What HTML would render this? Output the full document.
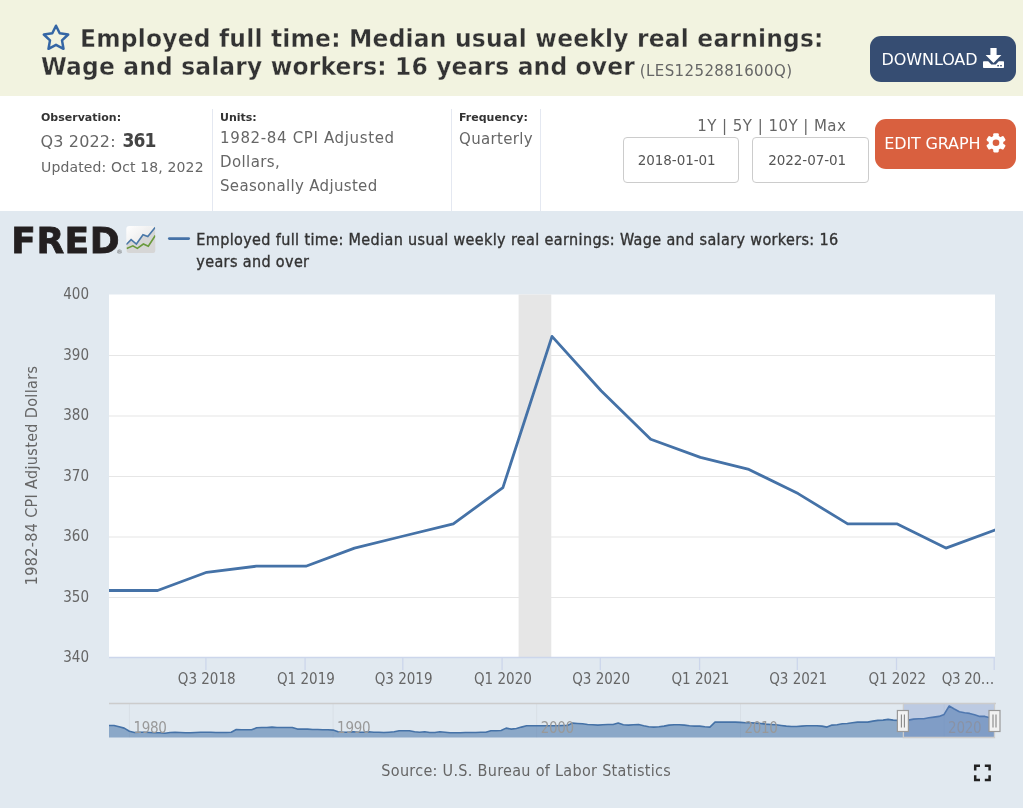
<!DOCTYPE html>
<html><head><meta charset="utf-8"><title>FRED Graph</title>
<style>
html,body{margin:0;padding:0;background:#fff;}
body{width:1023px;height:809px;position:relative;overflow:hidden;font-family:"DejaVu Sans","Liberation Sans",sans-serif;color:#333;}
.a{position:absolute;white-space:nowrap;line-height:1;}
#band{position:absolute;left:0;top:0;width:1023px;height:95.5px;background:#f2f3e0;}
.t{font-family:"DejaVu Sans Condensed","DejaVu Sans",sans-serif;font-weight:bold;font-size:25.5px;color:#333;-webkit-text-stroke:0.3px #f2f3e0;transform:scaleX(1.02);transform-origin:0 0;}
.btn{position:absolute;border-radius:11px;}
.bt{font-family:"DejaVu Sans",sans-serif;font-size:16px;color:#fff;}
.lab{font-weight:bold;font-size:11px;color:#333;}
.g{color:#666;}
.div{position:absolute;top:109px;width:1px;height:102px;background:#e4e8f1;}
.inp{position:absolute;box-sizing:border-box;border:1px solid #ccc;border-radius:4px;background:#fff;top:137px;height:46px;}
#chart{position:absolute;left:0;top:211px;width:1023px;height:597px;background:#e1e9f0;}
svg text{font-family:"DejaVu Sans Condensed","DejaVu Sans",sans-serif;}
.al{font-size:15px;fill:#666;letter-spacing:0px;}
.nl{font-size:15px;fill:#999;letter-spacing:-0.3px;stroke:#e1e9f0;stroke-width:0;}
.yt{font-size:16px;fill:#666;letter-spacing:0.35px;}
.src{font-size:16px;fill:#666;letter-spacing:0.31px;}
.lg{font-family:"DejaVu Sans Condensed","DejaVu Sans",sans-serif;font-size:16px;color:#333;letter-spacing:0.37px;-webkit-text-stroke:0.35px #333;}
#fred{font-family:"DejaVu Sans","Liberation Sans",sans-serif;font-weight:bold;font-size:36px;color:#231f20;letter-spacing:0.5px;-webkit-text-stroke:0.8px #231f20;}
</style></head><body>
<div id="band"></div>
<svg class="a" style="left:41px;top:23px" width="30" height="28" viewBox="0 0 30 28"><path d="M15 2.7L18.7 10.3L27.2 11.5L21 17.4L22.5 25.8L15 21.8L7.5 25.8L9 17.4L2.8 11.5L11.3 10.3Z" fill="none" stroke="#3566a5" stroke-width="2.5" stroke-linejoin="round"/></svg>
<div class="a t" style="left:79.7px;top:25.9px;letter-spacing:0.19px">Employed full time: Median usual weekly real earnings:</div>
<div class="a t" style="left:41px;top:53.9px;letter-spacing:0.15px">Wage and salary workers: 16 years and over <span style="font-family:'DejaVu Sans',sans-serif;font-weight:normal;font-size:15px;color:#666;letter-spacing:0.40px;margin-left:-3px;position:relative;top:0.7px;-webkit-text-stroke:0;display:inline-block;transform:scaleX(0.9804);transform-origin:0 0">(LES1252881600Q)</span></div>

<div class="btn" style="left:870px;top:35.5px;width:145.5px;height:46px;background:#364d72;"></div>
<div class="a bt" style="left:881.6px;top:52px;letter-spacing:-0.1px">DOWNLOAD</div>
<svg class="a" style="left:983px;top:48px" width="21" height="20" viewBox="0 0 21 20"><path d="M7.4 0H13.6V7H18.4L10.5 15L2.6 7H7.4Z" fill="#fff"/><path d="M0.8 13.3H5.2L8.3 16.4H12.7L15.8 13.3H20.2Q21 13.3 21 14.1V19.2Q21 20 20.2 20H0.8Q0 20 0 19.2V14.1Q0 13.3 0.8 13.3Z" fill="#fff"/><rect x="14.3" y="17" width="1.6" height="1.4" fill="#364d72"/><rect x="17.2" y="17" width="1.6" height="1.4" fill="#364d72"/></svg>

<div class="a lab" style="left:41px;top:112px">Observation:</div>
<div class="a g" style="left:40.5px;top:133.5px;font-size:16px;letter-spacing:0.15px">Q3 2022:</div>
<div class="a" style="left:122.5px;top:130.5px;font-size:19px;font-weight:bold;font-family:'DejaVu Sans Condensed','DejaVu Sans',sans-serif;letter-spacing:-0.9px;color:#444">361</div>
<div class="a g" style="left:41px;top:159.5px;font-size:14px;letter-spacing:0.14px">Updated: Oct 18, 2022</div>
<div class="div" style="left:212px"></div>
<div class="a lab" style="left:220px;top:112px">Units:</div>
<div class="a g" style="left:220px;top:131.3px;font-size:15px;letter-spacing:0.65px">1982-84 CPI Adjusted</div>
<div class="a g" style="left:220px;top:155.4px;font-size:15px;letter-spacing:0.4px">Dollars,</div>
<div class="a g" style="left:220px;top:179.2px;font-size:15px;letter-spacing:0.33px">Seasonally Adjusted</div>
<div class="div" style="left:451px"></div>
<div class="a lab" style="left:459px;top:112px">Frequency:</div>
<div class="a g" style="left:459px;top:131.5px;font-size:15px;letter-spacing:0.33px">Quarterly</div>
<div class="div" style="left:540px"></div>

<div class="a g" style="left:697.3px;top:119.1px;font-size:15px;letter-spacing:0.45px">1Y | 5Y | 10Y | Max</div>
<div class="inp" style="left:623px;width:116px"></div>
<div class="inp" style="left:752px;width:117px"></div>
<div class="a" style="left:637.7px;top:154.2px;font-size:13.5px;color:#555;letter-spacing:-0.05px">2018-01-01</div>
<div class="a" style="left:768.2px;top:154.2px;font-size:13.5px;color:#555;letter-spacing:-0.05px">2022-07-01</div>
<div class="btn" style="left:875px;top:119px;width:140.5px;height:50px;background:#d9603f;"></div>
<div class="a bt" style="left:884.3px;top:136.3px;letter-spacing:-0.15px">EDIT GRAPH</div>
<svg class="a" style="left:986px;top:133px" width="20" height="19.6" viewBox="0 0 21 21" preserveAspectRatio="none"><g fill="#fff"><circle cx="10.5" cy="10.5" r="7.7"/>
<g id="gt"><rect x="7.6" y="0.2" width="5.8" height="20.6" rx="1.2"/></g><use href="#gt" transform="rotate(60 10.5 10.5)"/><use href="#gt" transform="rotate(120 10.5 10.5)"/></g><circle cx="10.5" cy="10.5" r="3.5" fill="#d9603f"/></svg>

<div id="chart"></div>
<svg class="a" style="left:0;top:0" width="1023" height="809" viewBox="0 0 1023 809">
<defs><clipPath id="pc"><rect x="109.0" y="294.5" width="886.0" height="363.0"/></clipPath></defs>
<rect x="109.0" y="294.5" width="886.0" height="363.0" fill="#fff"/>
<rect x="518.6" y="294.5" width="32.7" height="363.0" fill="#e6e6e6"/>
<path d="M109.0 597.5H995.0" stroke="#e6e6e6" stroke-width="1.1"/>
<path d="M109.0 537.0H995.0" stroke="#e6e6e6" stroke-width="1.1"/>
<path d="M109.0 476.5H995.0" stroke="#e6e6e6" stroke-width="1.1"/>
<path d="M109.0 416.0H995.0" stroke="#e6e6e6" stroke-width="1.1"/>
<path d="M109.0 355.5H995.0" stroke="#e6e6e6" stroke-width="1.1"/>
<path d="M109.0 657.5H995.0" stroke="#ccd6eb" stroke-width="1.3"/>
<path d="M205.9 657.5V670" stroke="#ccd6eb" stroke-width="1.3"/>
<path d="M305.1 657.5V670" stroke="#ccd6eb" stroke-width="1.3"/>
<path d="M402.8 657.5V670" stroke="#ccd6eb" stroke-width="1.3"/>
<path d="M502.1 657.5V670" stroke="#ccd6eb" stroke-width="1.3"/>
<path d="M600.3 657.5V670" stroke="#ccd6eb" stroke-width="1.3"/>
<path d="M699.6 657.5V670" stroke="#ccd6eb" stroke-width="1.3"/>
<path d="M797.3 657.5V670" stroke="#ccd6eb" stroke-width="1.3"/>
<path d="M896.5 657.5V670" stroke="#ccd6eb" stroke-width="1.3"/>
<path d="M994.2 657.5V670" stroke="#ccd6eb" stroke-width="1.3"/>
<path d="M109.0 590.5 L157.6 590.5 L206.7 572.3 L256.3 566.2 L305.9 566.2 L354.5 548.1 L403.6 536.0 L453.3 523.9 L502.9 487.6 L552.0 336.4 L601.1 390.8 L650.7 439.2 L700.4 457.4 L748.9 469.4 L798.1 493.6 L847.7 523.9 L897.3 523.9 L945.9 548.1 L995.0 530.0" fill="none" stroke="#4572a7" stroke-width="2.8" stroke-linejoin="round" stroke-linecap="round" clip-path="url(#pc)"/>
<path d="M129.4 704V737.5" stroke="#d8dfe6" stroke-width="1"/>
<path d="M333.1 704V737.5" stroke="#d8dfe6" stroke-width="1"/>
<path d="M536.7 704V737.5" stroke="#d8dfe6" stroke-width="1"/>
<path d="M740.5 704V737.5" stroke="#d8dfe6" stroke-width="1"/>
<path d="M944.1 704V737.5" stroke="#d8dfe6" stroke-width="1"/>
<path d="M109.0 725.5 L114.0 725.5 L119.1 726.8 L124.2 728.1 L129.4 731.2 L134.4 732.5 L139.5 732.2 L144.6 732.2 L149.8 732.5 L154.8 732.8 L159.9 732.8 L165.0 733.2 L170.1 732.5 L175.1 732.2 L180.2 732.5 L185.3 732.8 L190.5 732.8 L195.5 732.5 L200.6 732.2 L205.7 732.2 L210.8 732.2 L215.9 732.5 L221.0 732.5 L226.1 732.5 L231.2 732.2 L236.3 729.5 L241.3 729.8 L246.5 729.8 L251.6 729.8 L256.6 727.8 L261.7 727.5 L266.8 727.5 L272.0 727.1 L277.0 727.5 L282.1 727.5 L287.2 727.5 L292.3 727.5 L297.4 729.1 L302.5 729.1 L307.6 729.1 L312.7 729.5 L317.7 729.5 L322.8 729.8 L327.9 729.8 L333.1 730.1 L338.1 731.8 L343.2 732.2 L348.3 732.2 L353.4 731.8 L358.5 732.2 L363.5 732.2 L368.7 731.8 L373.8 732.2 L378.9 732.2 L383.9 732.5 L389.1 732.2 L394.2 731.8 L399.2 730.8 L404.3 730.8 L409.4 730.8 L414.6 731.8 L419.6 732.2 L424.7 731.8 L429.8 732.5 L434.9 732.5 L439.9 731.8 L445.0 732.2 L450.1 732.8 L455.3 732.8 L460.3 732.8 L465.4 732.5 L470.5 732.5 L475.7 732.5 L480.7 732.2 L485.8 732.2 L490.9 730.8 L496.0 730.8 L501.1 730.5 L506.1 728.1 L511.3 729.1 L516.4 728.5 L521.4 727.1 L526.5 725.8 L531.6 725.8 L536.7 725.8 L541.8 725.8 L546.9 725.8 L552.0 725.8 L557.2 725.8 L562.2 725.5 L567.3 725.5 L572.4 723.1 L577.5 723.5 L582.5 723.8 L587.6 724.5 L592.7 724.8 L597.9 725.1 L602.9 724.8 L608.0 724.5 L613.1 724.5 L618.2 723.1 L623.3 724.8 L628.4 725.1 L633.5 724.8 L638.6 724.5 L643.7 725.8 L648.7 726.8 L653.9 727.1 L659.0 726.8 L664.0 726.1 L669.1 725.1 L674.2 724.8 L679.3 724.8 L684.4 725.1 L689.4 725.8 L694.6 726.1 L699.7 726.1 L704.8 726.8 L709.9 727.1 L715.0 722.1 L720.1 722.1 L725.1 722.1 L730.2 722.1 L735.3 722.1 L740.5 722.4 L745.5 722.8 L750.6 722.8 L755.7 723.1 L760.8 723.5 L765.8 724.1 L770.9 724.5 L776.1 724.8 L781.2 725.5 L786.3 726.1 L791.3 726.5 L796.5 726.5 L801.6 726.1 L806.6 725.8 L811.7 725.8 L816.8 725.8 L821.9 726.1 L827.0 727.1 L832.0 725.1 L837.2 724.8 L842.3 723.8 L847.3 723.5 L852.4 722.8 L857.5 722.1 L862.7 722.1 L867.7 722.1 L872.8 721.1 L877.9 720.4 L883.1 720.1 L888.1 719.4 L893.2 720.1 L898.3 720.4 L903.4 720.1 L908.4 720.1 L913.5 719.1 L918.7 718.8 L923.8 718.8 L928.8 717.8 L933.9 717.1 L939.0 716.4 L944.1 714.4 L949.2 706.0 L954.3 709.0 L959.4 711.7 L964.6 712.7 L969.6 713.4 L974.6 714.7 L979.8 716.4 L984.9 716.4 L989.9 717.8 L995.0 716.8 L995.0 737.5 L109.0 737.5 Z" fill="#4572a7" fill-opacity="0.55"/>
<path d="M109.0 725.5 L114.0 725.5 L119.1 726.8 L124.2 728.1 L129.4 731.2 L134.4 732.5 L139.5 732.2 L144.6 732.2 L149.8 732.5 L154.8 732.8 L159.9 732.8 L165.0 733.2 L170.1 732.5 L175.1 732.2 L180.2 732.5 L185.3 732.8 L190.5 732.8 L195.5 732.5 L200.6 732.2 L205.7 732.2 L210.8 732.2 L215.9 732.5 L221.0 732.5 L226.1 732.5 L231.2 732.2 L236.3 729.5 L241.3 729.8 L246.5 729.8 L251.6 729.8 L256.6 727.8 L261.7 727.5 L266.8 727.5 L272.0 727.1 L277.0 727.5 L282.1 727.5 L287.2 727.5 L292.3 727.5 L297.4 729.1 L302.5 729.1 L307.6 729.1 L312.7 729.5 L317.7 729.5 L322.8 729.8 L327.9 729.8 L333.1 730.1 L338.1 731.8 L343.2 732.2 L348.3 732.2 L353.4 731.8 L358.5 732.2 L363.5 732.2 L368.7 731.8 L373.8 732.2 L378.9 732.2 L383.9 732.5 L389.1 732.2 L394.2 731.8 L399.2 730.8 L404.3 730.8 L409.4 730.8 L414.6 731.8 L419.6 732.2 L424.7 731.8 L429.8 732.5 L434.9 732.5 L439.9 731.8 L445.0 732.2 L450.1 732.8 L455.3 732.8 L460.3 732.8 L465.4 732.5 L470.5 732.5 L475.7 732.5 L480.7 732.2 L485.8 732.2 L490.9 730.8 L496.0 730.8 L501.1 730.5 L506.1 728.1 L511.3 729.1 L516.4 728.5 L521.4 727.1 L526.5 725.8 L531.6 725.8 L536.7 725.8 L541.8 725.8 L546.9 725.8 L552.0 725.8 L557.2 725.8 L562.2 725.5 L567.3 725.5 L572.4 723.1 L577.5 723.5 L582.5 723.8 L587.6 724.5 L592.7 724.8 L597.9 725.1 L602.9 724.8 L608.0 724.5 L613.1 724.5 L618.2 723.1 L623.3 724.8 L628.4 725.1 L633.5 724.8 L638.6 724.5 L643.7 725.8 L648.7 726.8 L653.9 727.1 L659.0 726.8 L664.0 726.1 L669.1 725.1 L674.2 724.8 L679.3 724.8 L684.4 725.1 L689.4 725.8 L694.6 726.1 L699.7 726.1 L704.8 726.8 L709.9 727.1 L715.0 722.1 L720.1 722.1 L725.1 722.1 L730.2 722.1 L735.3 722.1 L740.5 722.4 L745.5 722.8 L750.6 722.8 L755.7 723.1 L760.8 723.5 L765.8 724.1 L770.9 724.5 L776.1 724.8 L781.2 725.5 L786.3 726.1 L791.3 726.5 L796.5 726.5 L801.6 726.1 L806.6 725.8 L811.7 725.8 L816.8 725.8 L821.9 726.1 L827.0 727.1 L832.0 725.1 L837.2 724.8 L842.3 723.8 L847.3 723.5 L852.4 722.8 L857.5 722.1 L862.7 722.1 L867.7 722.1 L872.8 721.1 L877.9 720.4 L883.1 720.1 L888.1 719.4 L893.2 720.1 L898.3 720.4 L903.4 720.1 L908.4 720.1 L913.5 719.1 L918.7 718.8 L923.8 718.8 L928.8 717.8 L933.9 717.1 L939.0 716.4 L944.1 714.4 L949.2 706.0 L954.3 709.0 L959.4 711.7 L964.6 712.7 L969.6 713.4 L974.6 714.7 L979.8 716.4 L984.9 716.4 L989.9 717.8 L995.0 716.8" fill="none" stroke="#4572a7" stroke-width="1.6" stroke-linejoin="round"/>
<text x="133.4" y="733" class="nl">1980</text>
<text x="337.1" y="733" class="nl">1990</text>
<text x="540.7" y="733" class="nl">2000</text>
<text x="744.5" y="733" class="nl">2010</text>
<text x="948.1" y="733" class="nl">2020</text>
<rect x="903.4" y="704" width="91.1" height="33.5" fill="#6685c2" fill-opacity="0.3"/>
<path d="M109.0 703.5H903.4V737.5H994.5V703.5H996.0" fill="none" stroke="#ccc" stroke-width="1.3"/>
<path d="M903.4 703.5H994.5" fill="none" stroke="#ccc" stroke-width="1.3"/>
<rect x="897.4" y="710.5" width="11" height="21" fill="#f2f2f2" stroke="#999" stroke-width="1.2"/>
<path d="M901.4 714.5V727.5M904.4 714.5V727.5" stroke="#888" stroke-width="1.1"/>
<rect x="989.0" y="710.5" width="11" height="21" fill="#f2f2f2" stroke="#999" stroke-width="1.2"/>
<path d="M993.0 714.5V727.5M996.0 714.5V727.5" stroke="#888" stroke-width="1.1"/>
<text x="89" y="662.0" text-anchor="end" class="al">340</text>
<text x="89" y="601.5" text-anchor="end" class="al">350</text>
<text x="89" y="541.0" text-anchor="end" class="al">360</text>
<text x="89" y="480.5" text-anchor="end" class="al">370</text>
<text x="89" y="420.0" text-anchor="end" class="al">380</text>
<text x="89" y="359.5" text-anchor="end" class="al">390</text>
<text x="89" y="299.0" text-anchor="end" class="al">400</text>
<text x="206.7" y="684" text-anchor="middle" class="al">Q3 2018</text>
<text x="305.9" y="684" text-anchor="middle" class="al">Q1 2019</text>
<text x="403.6" y="684" text-anchor="middle" class="al">Q3 2019</text>
<text x="502.9" y="684" text-anchor="middle" class="al">Q1 2020</text>
<text x="601.1" y="684" text-anchor="middle" class="al">Q3 2020</text>
<text x="700.4" y="684" text-anchor="middle" class="al">Q1 2021</text>
<text x="798.1" y="684" text-anchor="middle" class="al">Q3 2021</text>
<text x="897.3" y="684" text-anchor="middle" class="al">Q1 2022</text>
<text x="994" y="684" text-anchor="end" class="al" style="letter-spacing:-0.3px">Q3 20…</text>
<text transform="translate(36.5 475.5) rotate(-90)" text-anchor="middle" class="yt">1982-84 CPI Adjusted Dollars</text>
<text x="526.2" y="776" text-anchor="middle" class="src">Source: U.S. Bureau of Labor Statistics</text>
<path d="M975.2 770.5V765.8H980 M984.8 765.8H989.6V770.5 M989.6 775.3V780H984.8 M980 780H975.2V775.3" fill="none" stroke="#222" stroke-width="2.5"/>
<path d="M169.3 238.6H188.7" stroke="#4572a7" stroke-width="2.7" stroke-linecap="round"/>
<defs><linearGradient id="ig" x1="0" y1="0" x2="1" y2="1"><stop offset="0" stop-color="#fff"/><stop offset="0.5" stop-color="#eee"/><stop offset="1" stop-color="#d4d4d4"/></linearGradient><clipPath id="ic"><rect x="126.3" y="226" width="29" height="27" rx="3"/></clipPath></defs>
<rect x="126.3" y="226" width="29" height="27" rx="3" fill="url(#ig)"/>
<g clip-path="url(#ic)"><path d="M126.3 244.5L131.1 239.6L136.4 244L143 234.8L147.8 236.5L155.3 227.2V253H126.3Z" fill="#d6d6d6"/>
<path d="M126.3 244.5L131.1 239.6L136.4 244L143 234.8L147.8 236.5L155.3 227.2" fill="none" stroke="#4a78a8" stroke-width="1.6"/>
<path d="M126.7 248.4L132.9 245.8L137.3 248.4L143.4 244L148.3 246.2L155.3 235.5" fill="none" stroke="#6a9a3c" stroke-width="1.6"/></g>
</svg>
<div class="a" id="fred" style="left:11.3px;top:222.9px">FRED</div>
<div class="a" style="left:116.5px;top:248.5px;font-size:6px;color:#555;font-family:'DejaVu Sans',sans-serif">®</div>
<div class="a lg" style="left:196.3px;top:232.3px">Employed full time: Median usual weekly real earnings: Wage and salary workers: 16</div>
<div class="a lg" style="left:196.3px;top:254.3px">years and over</div>
</body></html>
